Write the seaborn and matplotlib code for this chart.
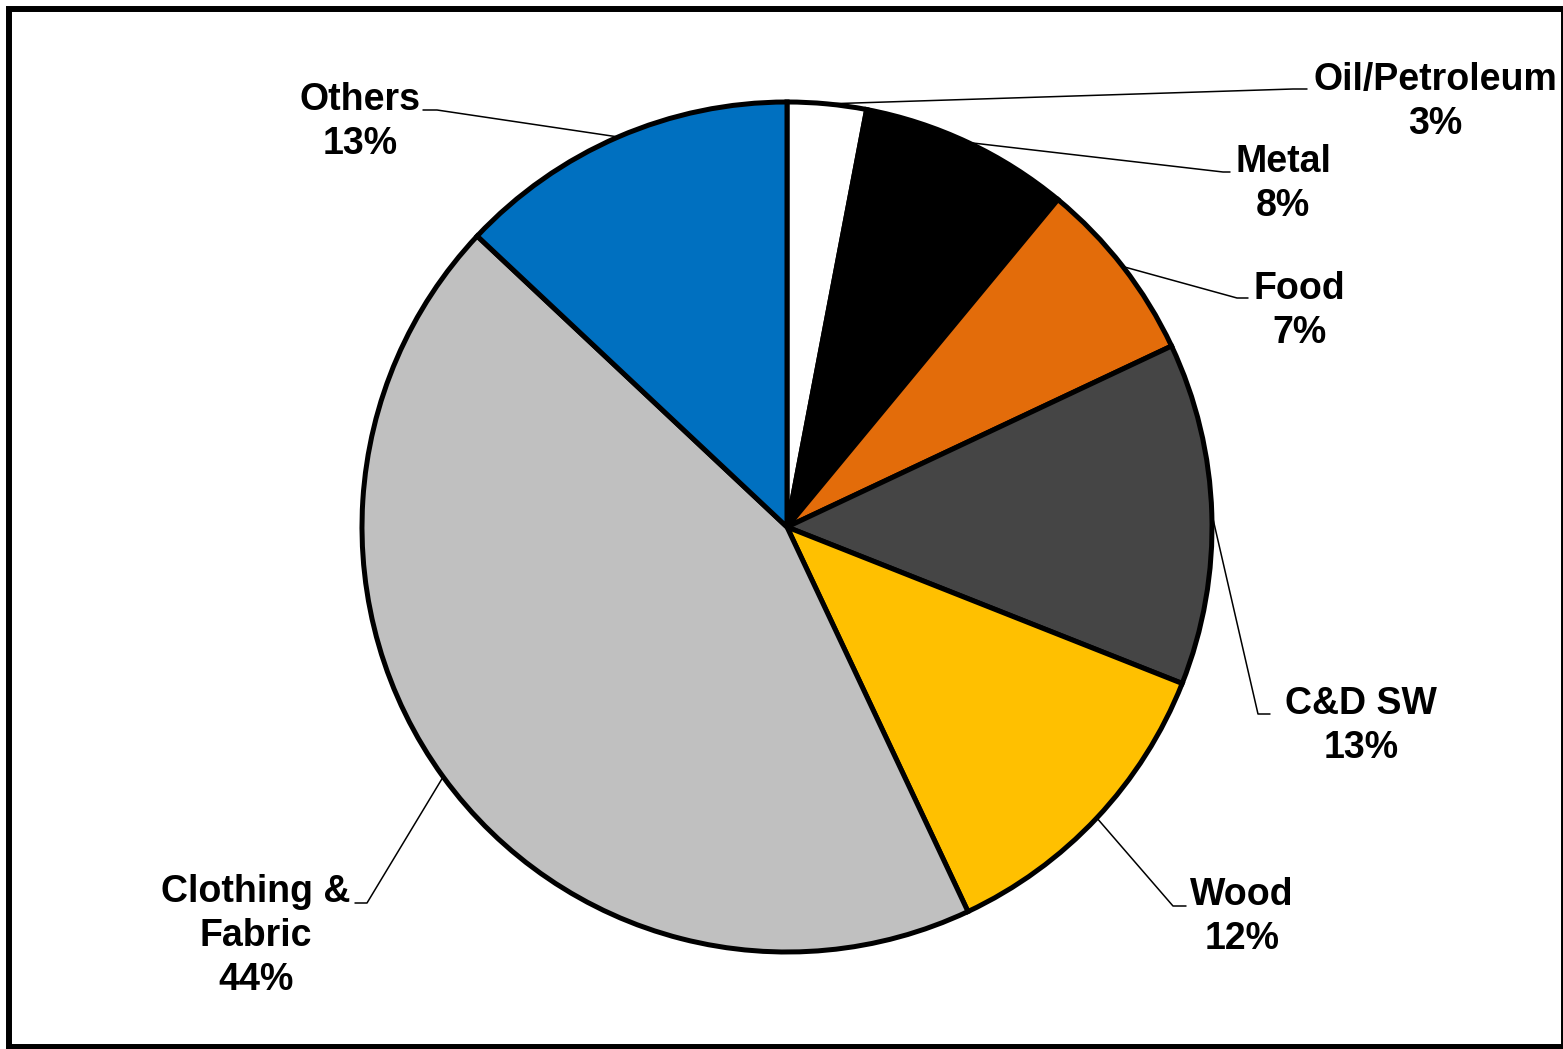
import numpy as np
import matplotlib.pyplot as plt
import seaborn as sns
from matplotlib.patches import Rectangle

# --- data ---
categories = ['Oil/Petroleum', 'Metal', 'Food', 'C&D SW', 'Wood', 'Clothing &\nFabric', 'Others']
shares = [3, 8, 7, 13, 12, 44, 13]
colors = ['#FFFFFF', '#000000', '#E36C0A', '#454545', '#FFC000', '#C0C0C0', '#0070C0']

# label layout in pixels (text centre, elbow of leader line, end of leader line)
text_pos = [(1435, 102), (1283, 184), (1299, 311), (1361, 726), (1242, 917), (256, 936), (360, 122)]
elbow_pos = [(1293, 89), (1223, 172), (1237, 298), (1258, 714), (1173, 906), (367, 903), (437, 110)]
end_pos = [(1307, 89), (1230, 172), (1248, 298), (1270, 714), (1186, 906), (355, 903), (423, 110)]

W, H = 1563, 1049
sns.set_style('white')
plt.rcParams['font.family'] = ['Liberation Sans', 'DejaVu Sans']

fig = plt.figure(figsize=(W / 100, H / 100), dpi=100)
ax = fig.add_axes([0, 0, 1, 1])

cx, cy, r = 787, H - 527, 425
wedges, _ = ax.pie(shares, colors=colors, startangle=90, counterclock=False,
                   center=(cx, cy), radius=r,
                   wedgeprops={'edgecolor': 'black', 'linewidth': 3.6})
ax.set_xlim(0, W)
ax.set_ylim(0, H)
ax.set_aspect('equal')
ax.axis('off')

for w, cat, val, tp, ep, np_ in zip(wedges, categories, shares, text_pos, elbow_pos, end_pos):
    mid = np.deg2rad((w.theta1 + w.theta2) / 2)
    ax_x, ax_y = cx + r * np.cos(mid), cy + r * np.sin(mid)
    ax.plot([ax_x, ep[0], np_[0]], [ax_y, H - ep[1], H - np_[1]], color='black', lw=1.1, zorder=0)
    ax.text(tp[0], H - tp[1], f"{cat}\n{val}%", ha='center', va='center', fontsize=27,
            fontweight='bold', color='black', linespacing=1.28, multialignment='center')

# outer chart border
ax.add_patch(Rectangle((9, 2), W - 8, H - 11, fill=False, edgecolor='black', lw=4.3, clip_on=False))

fig.savefig('out.png', dpi=100, facecolor='white')
